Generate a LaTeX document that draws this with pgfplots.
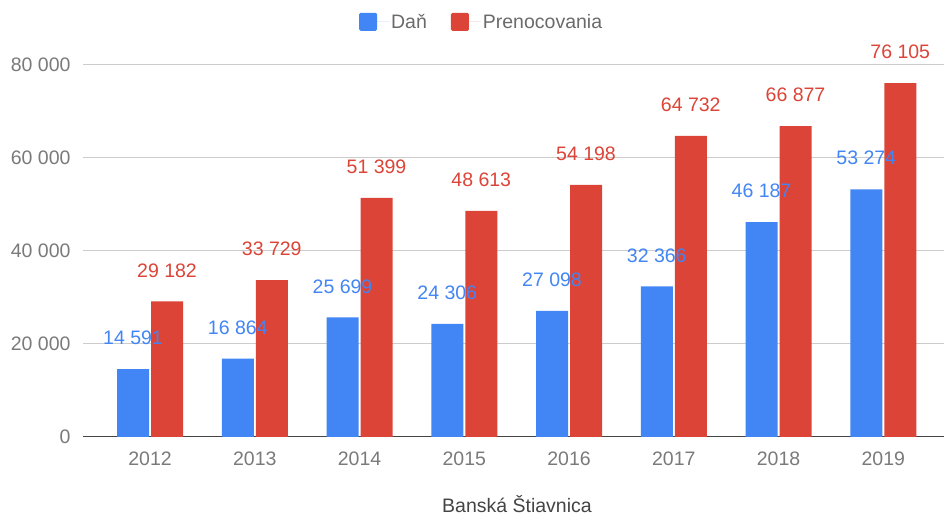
\documentclass[border=0pt]{standalone}
\usepackage{fontspec}
\setmainfont{Liberation Sans}
\usepackage{pgfplots}
\pgfplotsset{compat=1.18}
\definecolor{cblue}{HTML}{4285F4}
\definecolor{cred}{HTML}{DB4437}
\definecolor{tickgray}{HTML}{7A7A7A}
\definecolor{leggray}{HTML}{6A6A6A}
\definecolor{labgray}{HTML}{444444}
\definecolor{gridgray}{HTML}{CCCCCC}
\newcommand{\chartfont}{\fontsize{19.5}{23}\selectfont}
\begin{document}
\begin{tikzpicture}[x=1pt,y=1pt]
\useasboundingbox (0,0) rectangle (944,516);
\begin{axis}[
  at={(83pt,79pt)}, anchor=south west,
  scale only axis, width=861pt, height=372pt,
  xmin=-0.64, xmax=7.58, ymin=0, ymax=80000,
  clip=false,
  ybar=2pt, bar width=32pt,
  xtick={0,...,7},
  xticklabels={2012,2013,2014,2015,2016,2017,2018,2019},
  ytick={0,20000,40000,60000,80000},
  scaled y ticks=false,
  /pgf/number format/assume math mode=true,
  /pgf/number format/1000 sep={\ },
  major tick length=0pt,
  axis x line*=bottom, axis y line*=left,
  y axis line style={draw=none},
  x axis line style={draw=labgray, line width=1pt},
  ymajorgrids, grid style={draw=gridgray, line width=1pt},
  tick label style={font=\chartfont, text=tickgray},
  xticklabel style={yshift=-11pt},
  yticklabel style={xshift=-9pt},
  xlabel={Banská Štiavnica},
  xlabel style={at={(axis description cs:0.504,0)}, anchor=center, yshift=-67pt, font=\chartfont, text=labgray},
  legend columns=2,
  legend style={at={(0.463,1.116)}, anchor=center, draw=none, fill=none, font=\chartfont, text=leggray,
    /tikz/every even column/.append style={column sep=22pt}},
  legend image code/.code={\fill[#1, rounded corners=1.5pt] (0pt,-9pt) rectangle (18pt,9pt);
    \path (0pt,0pt) -- (30pt,0pt);},
  nodes near coords,
  nodes near coords style={anchor=center, yshift=31pt, font=\chartfont},
]
\addplot[fill=cblue, draw=none, every node near coord/.append style={text=cblue}] coordinates {
  (0,14591) (1,16864) (2,25699) (3,24306) (4,27098) (5,32366) (6,46187) (7,53274)};
\addlegendentry{Daň}
\addplot[fill=cred, draw=none, every node near coord/.append style={text=cred}] coordinates {
  (0,29182) (1,33729) (2,51399) (3,48613) (4,54198) (5,64732) (6,66877) (7,76105)};
\addlegendentry{Prenocovania}
\end{axis}
\end{tikzpicture}
\end{document}
